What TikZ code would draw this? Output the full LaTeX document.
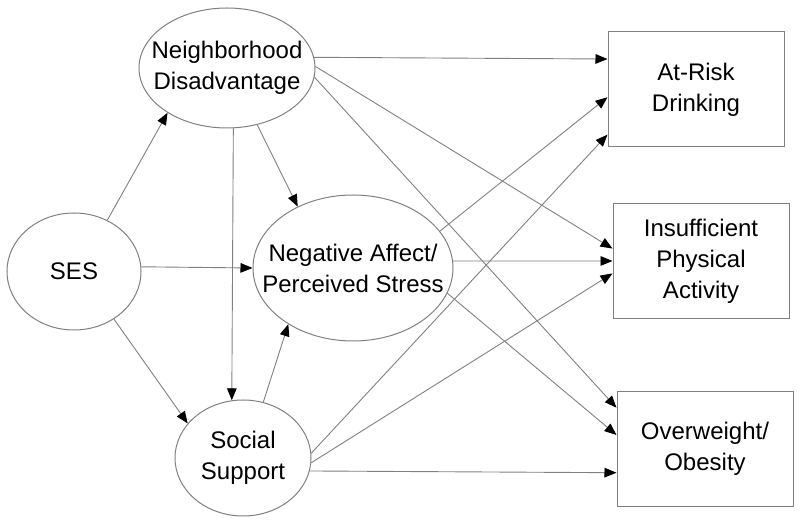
\documentclass[tikz,border=0pt]{standalone}
\usepackage{fontspec}
\setmainfont{Liberation Sans}
\usetikzlibrary{positioning, shapes.geometric, arrows.meta}

\begin{document}
\begin{tikzpicture}[
		x=0.5pt, y=-0.5pt,
		latent/.style={ellipse, draw=black!50, line width=0.5pt, inner sep=0pt, align=center, font=\fontsize{12}{15.5}\selectfont},
		outcome/.style={rectangle, draw=black!50, line width=0.5pt, minimum width=88pt, minimum height=57.5pt, inner sep=0pt, align=center, font=\fontsize{12}{15.5}\selectfont},
		link/.style={draw=black!50, line width=0.45pt, -{Triangle[length=6pt,width=4.8pt,color=black]}}]
		\useasboundingbox (0,0) rectangle (800,523);
		\node[latent, minimum width=67pt, minimum height=58.5pt] (ses) at (74,271.5) {SES};
		\node[latent, minimum width=88pt, minimum height=60pt, inner xsep=-7pt] (nd) at (227,68) {Neighborhood\\Disadvantage};
		\node[latent, minimum width=100pt, minimum height=73pt, inner xsep=-10.5pt] (na) at (353,268) {Negative Affect/\\Perceived Stress};
		\node[latent, minimum width=68pt, minimum height=58pt] (ss) at (243,458) {Social\\Support};
		\node[outcome] (ar) at (696,89.5) {At-Risk\\Drinking};
		\node[outcome] (ia) at (701,261) {Insufficient\\Physical\\Activity};
		\node[outcome] (ob) at (705,449) {Overweight/\\Obesity};
		
		% paths among the predictors
		\draw[link] (ses.57) -- (nd.217);
		\draw[link] (ses.4) -- (na.west);
		\draw[link] (ses.310) -- (ss.148);
		\draw[link] (nd.298) -- (na.132);
		\draw[link] (nd.276) -- (ss.101);
		\draw[link] (ss.70) -- (na.221);
		
		% paths to the outcomes
		\draw[link] (nd.7) -- (ar.161);
		\draw[link] (nd.1) -- (ia.172);
		\draw[link] (nd.354) -- (ob.155);
		\draw[link] (na.23) -- (ar.185);
		\draw[link] (na.4) -- (ia.west);
		\draw[link] (na.345) -- (ob.171);
		\draw[link] (ss.4) -- (ar.207);
		\draw[link] (ss.356) -- (ia.188);
		\draw[link] (ss.349) -- (ob.195);
		
	\end{tikzpicture}
\end{document}
